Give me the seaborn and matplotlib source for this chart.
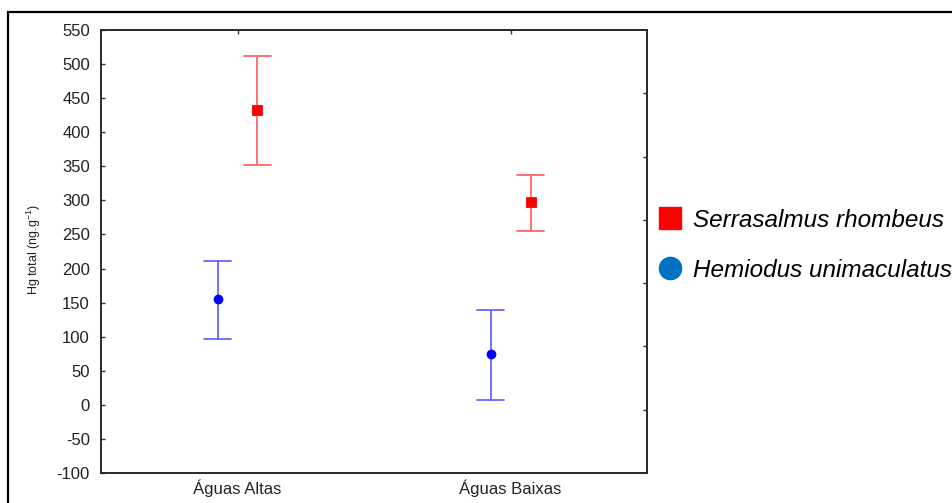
import matplotlib
matplotlib.use('Agg')
import matplotlib.pyplot as plt
from matplotlib.lines import Line2D
from matplotlib.patches import Rectangle
import pandas as pd
import seaborn as sns

# Mean and interval limits (Hg total, ng/g)
periods = ['Águas Altas', 'Águas Baixas']
species = ['Hemiodus unimaculatus', 'Serrasalmus rhombeus']
hemiodus_mean = [155, 75]
hemiodus_low = [96, 7]
hemiodus_high = [211, 139]
serrasalmus_mean = [433, 297]
serrasalmus_low = [352, 255]
serrasalmus_high = [512, 338]
y_ticks = list(range(-100, 551, 50))

sns.set_theme(style='white')
plt.rcParams['font.family'] = ['Liberation Sans', 'DejaVu Sans']
plt.rcParams['axes.unicode_minus'] = False
plt.rcParams['mathtext.fontset'] = 'custom'
plt.rcParams['mathtext.rm'] = 'Liberation Sans'
plt.rcParams['mathtext.it'] = 'Liberation Sans:italic'

# long table: low / mean / high per group -> median gives the mean, min/max give the interval
rows = []
for name, lo, mid, hi in [(species[0], hemiodus_low, hemiodus_mean, hemiodus_high),
                          (species[1], serrasalmus_low, serrasalmus_mean, serrasalmus_high)]:
    for i, p in enumerate(periods):
        for v in (lo[i], mid[i], hi[i]):
            rows.append({'period': p, 'species': name, 'hg': v})
df = pd.DataFrame(rows)

fig = plt.figure(figsize=(9.53, 5.03), dpi=100)
ax = fig.add_axes([0.106, 0.0596, 0.573, 0.8807])

sns.pointplot(data=df, x='period', y='hg', hue='species', hue_order=species,
              order=periods, estimator='median',
              errorbar=lambda v: (v.min(), v.max()),
              palette=['#0000FF', '#FF0000'], markers=['o', 's'],
              linestyle='none', dodge=0.146, capsize=0.1,
              markersize=6, err_kws={'linewidth': 1.3}, ax=ax, legend=False)

# lighter error bars, solid markers (the circles are a bit smaller)
for ln in ax.lines:
    if ln.get_marker() in ('None', None, '', ' '):
        ln.set_alpha(0.6)
    elif ln.get_marker() == 'o':
        ln.set_markersize(5)

ax.set_xlim(-0.5, 1.5)
ax.set_ylim(-100, 550)
ax.set_yticks(y_ticks)
ax.set_xlabel('')
ax.set_ylabel('')
ax.tick_params(axis='both', direction='in', length=3, width=1, color='#333333',
               labelsize=12, labelcolor='#222222', top=True)
ax.tick_params(axis='y', pad=8)
ax.tick_params(axis='x', pad=5)
for s in ax.spines.values():
    s.set_color('#555555')
    s.set_linewidth(1.3)

# right side ticks split the axis into seven parts
ax_r = ax.twinx()
ax_r.set_ylim(0, 7)
ax_r.set_yticks(range(1, 7))
ax_r.tick_params(axis='y', direction='in', length=3, width=1, color='#333333',
                 labelright=False)
ax_r.grid(False)

fig.text(0.036, 0.503, 'Hg total (ng.g$^{-1}$)', rotation=90, ha='center',
         va='center', fontsize=9, color='#222222')

handles = [Line2D([], [], marker='s', color='#FF0000', linestyle='none', markersize=16),
           Line2D([], [], marker='o', color='#0070C0', linestyle='none', markersize=16)]
leg = fig.legend(handles, [species[1], species[0]], loc='upper left',
                 bbox_to_anchor=(658 / 953, 1 - 209 / 503), frameon=False,
                 prop={'style': 'italic', 'size': 17.5}, handlelength=1,
                 handletextpad=0.46, labelspacing=1.1, borderpad=0, borderaxespad=0)
for t in leg.get_texts():
    t.set_color('black')

fig.patches.append(Rectangle((8 / 953, -0.2), 1.2, 1 - 12 / 503 + 0.2,
                             transform=fig.transFigure, fill=False,
                             edgecolor='black', linewidth=1.6))

fig.savefig('out.png', dpi=100)
